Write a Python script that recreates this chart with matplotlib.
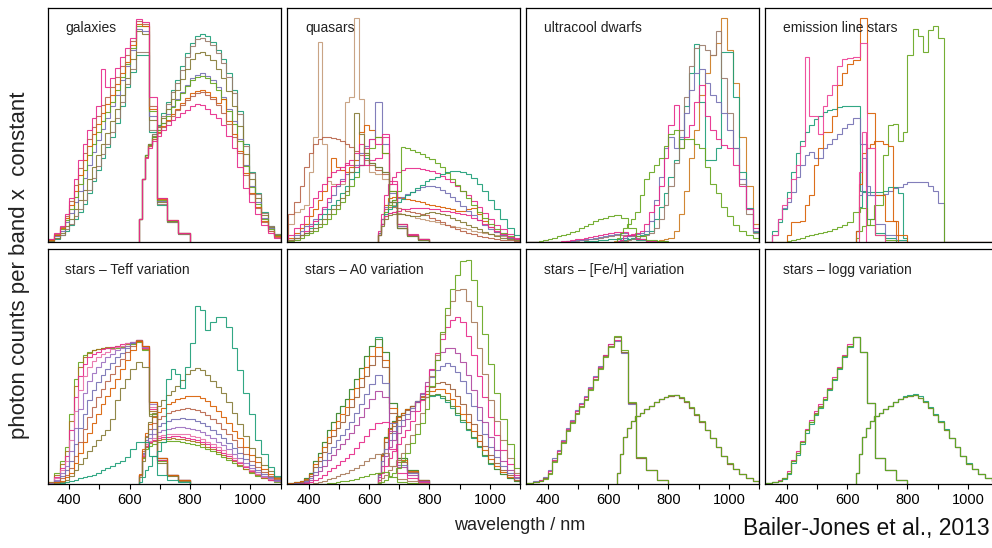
import matplotlib
matplotlib.use("Agg")
import matplotlib.pyplot as plt

plt.rcParams['font.family'] = ['Liberation Sans', 'DejaVu Sans']

# band edges (nm) of the two photometers
bp_edges = [330, 350, 370, 385, 400, 415, 430, 445, 460, 475, 490, 505, 520,
            535, 550, 567, 584, 601, 620, 642, 665, 692, 725, 762, 800]
rp_edges = [630, 640, 650, 662, 675, 690, 705, 720, 736, 752, 768, 784, 800,
            817, 834, 851, 868, 885, 902, 920, 938, 956, 975, 995, 1015, 1035,
            1058, 1080, 1100]

TEAL = '#1B9E77'
ORANGE = '#D95F02'
PURPLE = '#7570B3'
MAGENTA = '#E7298A'
GREEN = '#66A61E'
BROWN = '#A6761D'
OLIVE = '#857A35'
GREYBROWN = '#9A7B6B'
RUST = '#B8654A'
TAN = '#C49A78'
PLUM = '#B0479F'

# reference star (solar-like) used in several panels
star_bp = [0.5, 1, 1.5, 2.5, 5, 10, 13.5, 18, 23, 26.5, 30.5, 33.5,
           36.5, 40.5, 45, 49.5, 54.5, 59, 62.5, 56.5, 34.5, 11, 6, 2]
star_rp = [5, 13, 20, 24, 27, 29, 30.5, 32, 33.5, 35, 36.2, 37, 37.6, 37.8,
           36.8, 35, 32.5, 29.5, 26.5, 23, 19.5, 15.8, 12, 8.8, 6.3, 4.3, 2.6, 1.5]

# galaxies
gal_colors = [TEAL, GREYBROWN, OLIVE, PURPLE, GREEN, ORANGE, RUST, MAGENTA]
gal_bp = [
    [0.5, 1.5, 3, 5, 7.5, 10, 13, 16.5, 21, 26, 31, 36, 40.5, 45, 51, 58, 66, 72.5, 80, 80, 47, 16, 8.5, 3.5],
    [0.5, 1.7, 3.3, 5.5, 8, 11, 14, 18, 22.5, 27.5, 32.5, 37.5, 42, 47, 53, 60, 67.5, 74, 81, 81, 48, 16.5, 8.5, 3.5],
    [0.7, 2, 4, 7, 10, 14, 18, 22.5, 27, 32, 37, 42, 46.5, 51.5, 57, 63, 70, 78, 90, 89, 52, 17, 9, 3.8],
    [0.8, 2.5, 5, 8.5, 12.5, 17, 22, 27.5, 33, 38.5, 43.5, 48.5, 53, 58, 63, 69, 75, 82, 91, 90, 54, 17.5, 9, 3.8],
    [1, 3, 5.5, 9.5, 14, 19.5, 25, 31, 37, 42, 47, 51.5, 55.5, 60, 65, 70.5, 76, 83, 92, 92, 56, 18, 9, 3.8],
    [1, 3.2, 6, 10.5, 16, 22, 28.5, 35, 41, 46, 50.5, 55, 59, 63, 67.5, 72, 77, 84, 93, 92, 57, 18.5, 9.3, 4],
    [1.2, 3.5, 6.5, 11, 17.5, 24.5, 31.5, 38, 44, 49, 54, 58.5, 62, 66, 70.5, 75, 80, 86, 94.5, 93, 58, 19, 9.5, 4],
    [1.5, 4, 7, 12, 19, 27, 35, 42, 48, 53, 58, 74, 66, 70, 74.5, 79, 83, 87, 95, 94, 62, 19, 9.5, 4],
]
gal_rp = [
    [10, 27, 37, 42, 46, 50, 55, 60, 65, 69, 75, 80.5, 85, 88, 89, 88, 85.5, 82, 78, 72, 65, 56, 42, 30, 21, 13, 7, 3.5],
    [10, 27, 37, 42, 46, 49.5, 54, 59, 64, 68, 73.5, 79, 83.5, 86.5, 87, 86, 84, 80.5, 76.5, 70.5, 63.5, 54.5, 41, 29.5, 20.5, 12.5, 7, 3.5],
    [10, 27, 37, 42, 45.5, 49, 53, 57, 61, 65, 69.5, 74, 78, 80.5, 81, 80, 77.5, 74, 70, 64.5, 58, 49.5, 37.5, 27, 19, 11.5, 6.5, 3.3],
    [10, 27, 37, 41.5, 45, 48, 51, 54.5, 58, 61, 64, 67, 70, 71.5, 72, 71, 69, 66, 62, 57, 51.5, 44, 33, 24, 17, 10.5, 6, 3],
    [10, 27, 37, 41.5, 45, 48, 51, 54, 57.5, 60.5, 63.5, 66.5, 69, 70.5, 71, 70, 68, 65, 61, 56, 50.5, 43, 32.5, 23.5, 16.5, 10, 5.8, 3],
    [10, 27, 36.5, 41, 44, 47, 49.5, 52, 54.5, 57, 59.5, 61.5, 63.5, 64.5, 65, 64, 62, 59.5, 61, 51.5, 46, 39, 29.5, 21, 15, 9, 5, 2.5],
    [10, 27, 36.5, 41, 44, 46.5, 49, 51.5, 54, 56.5, 58.5, 60.5, 62.5, 63.5, 64, 63, 61, 58.5, 55, 50.5, 45, 38, 28.5, 20.5, 14.5, 8.8, 4.8, 2.4],
    [10, 27, 36, 40, 43, 45.5, 48, 50, 52, 53.5, 55, 56.5, 58, 58.8, 58.5, 57, 54.5, 53, 50, 45.5, 40, 32, 23, 17, 12, 7.5, 4, 2],
]

# quasars
qso_colors = [TAN, RUST, ORANGE, PURPLE, MAGENTA, GREEN, TEAL, MAGENTA, OLIVE]
qso_bp = [
    [8, 13, 14, 16, 30, 45, 85.5, 42, 26, 25, 24, 25, 60, 62, 95.5, 61, 38, 30, 29, 27, 16, 6, 3, 1.2],
    [12, 17, 24, 32, 38, 42, 44, 45, 45, 44.5, 44, 43, 42, 40.5, 39, 37, 35, 33, 31, 29, 17, 6, 3, 1.2],
    [2, 4, 6, 8, 11, 14, 18, 22, 28, 36, 32, 31, 30, 32, 35, 47, 50, 48, 45, 38, 22, 7, 3, 1.3],
    [1, 3, 5, 7, 8, 10, 12, 14, 17, 20, 24, 27, 29, 30, 33, 38, 41, 44, 60, 42, 21, 7, 3, 1.2],
    [3, 6, 8, 11, 15, 19, 22, 25, 28, 30, 31, 32, 33, 35, 38, 42, 33, 35, 36, 46, 26, 8, 3.5, 1.5],
    [0.5, 1, 2, 3, 4, 5, 6.5, 8, 10, 12, 14, 17, 20, 24, 28, 33, 37, 40, 45, 38, 22, 8, 3, 1],
    [1, 2, 3, 4, 6, 8, 10, 12, 14, 16, 18, 21, 24, 27, 30, 33, 36, 34, 32, 30, 17, 6, 2.5, 1],
    [1, 2, 3, 5, 7, 9, 12, 15, 19, 24, 25, 26, 34, 33, 32, 33, 40, 44, 42, 45, 25, 8, 3, 1.2],
    [1, 2, 3, 4, 5, 6, 8, 10, 12, 14, 16, 19, 22, 30, 55, 46, 38, 34, 32, 30, 17, 6, 2.5, 1],
]
qso_rp = [
    [3, 8, 11, 12.5, 13, 12.5, 12, 11.5, 11, 10.5, 10, 9.5, 9, 8.5, 8, 7.5, 7, 6.5, 6, 5.5, 5, 4.5, 4, 3.5, 3, 2.5, 2, 1.5],
    [4, 10, 14, 15, 15, 14.5, 14, 13.5, 13, 12.5, 12, 11.5, 10.5, 9.5, 8.5, 7.5, 6.5, 5.5, 4.7, 4, 3.4, 2.8, 2.3, 1.8, 1.4, 1.1, 0.8, 0.6],
    [4, 10, 16, 19, 19.5, 19.5, 19, 18.5, 18, 17.5, 17, 16.5, 16, 15.5, 15, 14.5, 14, 13.5, 13.5, 14, 14.5, 12, 9, 6.5, 4.5, 3, 2, 1.2],
    [4, 10, 15, 17, 18, 19, 19.5, 20.5, 21.5, 22.5, 23.5, 24, 24, 23.5, 22.5, 21, 19.5, 17.5, 15.5, 13.5, 11.5, 9.5, 7.5, 5.8, 4.3, 3, 2, 1.2],
    [5, 12, 20, 25, 28, 30, 31, 31.5, 31.8, 31.6, 31.3, 31, 30.5, 29.5, 28.3, 27, 25.5, 24, 22, 20, 17.5, 15, 12.5, 10, 7.5, 5.5, 3.5, 2],
    [3, 8, 13, 16, 18, 22, 40.5, 40, 39.5, 38.5, 37.5, 36.5, 35.5, 34, 32, 29.5, 27, 24.5, 22, 19, 16, 13, 10.5, 8, 5.8, 4, 2.5, 1.5],
    [3, 8, 12, 14, 15.5, 17, 18.5, 20, 21.5, 23, 24.5, 26, 27, 28, 29, 29.8, 30.2, 30.3, 30, 29, 27.5, 25, 22, 18, 14, 10, 6, 3],
    [3, 8, 11, 12.5, 13, 13.5, 14, 14, 14.5, 14.5, 14.5, 14.5, 14, 14, 13.5, 13.5, 13, 12.5, 12, 11.5, 10.5, 9.5, 8, 6.5, 5, 3.5, 2.2, 1.3],
    [3, 7, 10, 11.5, 12, 12, 12, 11.5, 11, 11, 11.5, 12.5, 13, 12.5, 12, 11.5, 10.5, 9.5, 8.5, 7.5, 6.5, 5.5, 4.5, 3.5, 2.7, 2, 1.4, 0.9],
]

# ultracool dwarfs
ucd_colors = ['#CC7A1F', TEAL, GREYBROWN, PURPLE, MAGENTA, GREEN]
ucd_bp = [
    [0, 0, 0, 0, 0, 0, 0, 0, 0, 0, 0, 0, 0, 0, 0.1, 0.1, 0.2, 0.3, 0.4, 0.5, 0.3, 0.1, 0.1, 0],
    [0, 0, 0, 0, 0, 0, 0, 0, 0, 0.1, 0.2, 0.3, 0.4, 0.5, 0.6, 0.8, 1, 1.3, 1.6, 2, 1.5, 0.8, 0.5, 0.2],
    [0, 0, 0, 0, 0, 0.1, 0.2, 0.3, 0.4, 0.5, 0.7, 0.9, 1.1, 1.3, 1.6, 1.9, 2.2, 2.6, 3, 3.2, 2.5, 1.2, 0.6, 0.2],
    [0, 0, 0, 0, 0, 0.1, 0.2, 0.3, 0.4, 0.6, 0.8, 1, 1.2, 1.5, 1.8, 2.1, 2.5, 3, 3.5, 4, 3, 1.5, 0.7, 0.3],
    [0, 0, 0, 0, 0, 0.2, 0.3, 0.5, 0.7, 1, 1.3, 1.6, 2, 2.3, 2.6, 3, 3.5, 4, 4.5, 4.5, 3, 1.5, 0.7, 0.3],
    [0, 0, 0.5, 1, 1.5, 2, 2.5, 3, 3.5, 4.2, 5, 6, 7, 8, 9, 10, 10.5, 11, 11.8, 10.5, 6, 2.5, 1, 0.4],
]
ucd_rp = [
    [0, 0, 0, 0, 0, 0, 0.1, 0.2, 0.3, 0.5, 0.8, 1.2, 2, 5, 12, 22, 36, 48, 63, 72, 80, 85, 95.5, 82, 68, 45, 24, 8],
    [0.3, 0.6, 1, 1.5, 2, 2.5, 3, 3.5, 5, 10, 15, 21, 28, 35, 44, 58, 72, 84.5, 60, 35, 35, 40, 81, 81, 62, 30, 14.5, 4.5],
    [0.2, 0.4, 0.6, 1, 1.5, 2, 2.5, 3, 4, 6, 10, 16, 24, 34, 48, 62, 75, 83, 84, 82, 80, 90, 70, 55, 40, 25, 12, 4],
    [0.5, 1, 2, 2.5, 3, 3.5, 4, 5, 9, 18, 28, 40, 45, 40, 45, 55, 65, 72, 74, 68, 63, 60, 55, 48, 40, 27, 14, 5],
    [0.5, 1, 2.5, 3, 3.5, 4, 5, 8, 13, 16, 24, 36, 50, 58.5, 40, 45, 50, 60, 67, 54, 48, 44, 41.5, 40, 33, 24, 14, 6],
    [2, 4, 6, 8, 10, 13, 20, 27, 30, 33, 36, 41, 46, 48, 40, 44, 44, 42, 40, 32, 25, 21, 15, 11, 7.5, 5, 3, 2],
]

# emission line stars
els_colors = [TEAL, PURPLE, GREEN, ORANGE, '#EE3F95']
els_bp = [
    [0, 5, 8.8, 14, 21.6, 30, 38, 43, 47, 50, 52.5, 54, 55.5, 56.5, 57, 57.8, 58.2, 58.2, 58, 22, 10, 4, 2, 1],
    [0, 3, 10, 14.5, 17, 21.6, 28, 33, 37, 38.6, 35.8, 35.8, 40, 42, 44, 46, 48.6, 50.5, 52.8, 42, 20, 8, 3, 0],
    [0, 0, 0, 0, 0.5, 1, 1.5, 2, 2.5, 3, 3.5, 4, 4.5, 5, 5.5, 6.5, 7.5, 8.8, 13, 14.5, 7.4, 3, 1, 0],
    [0, 0, 0, 0, 3, 8.8, 8.8, 9, 16, 20, 33, 40, 47, 47, 54, 67, 72, 76, 77.7, 95.5, 55, 20, 9, 3],
    [0, 3, 10, 16, 19, 27, 33, 41, 79, 54, 54, 46, 58, 63, 67, 75, 78, 78.4, 79, 85, 40, 3, 0, 0],
]
els_rp = [
    [5, 15, 21.6, 21.6, 21.6, 21.6, 21.6, 22, 23.7, 23.7, 21, 2, 0, 0, 0, 0, 0, 0, 0, 0, 0, 0, 0, 0, 0, 0, 0, 0],
    [5, 20, 35.8, 24, 20, 20, 20, 20.5, 22, 23, 23.5, 25, 25.8, 25.8, 25.8, 25.5, 24, 22, 16.6, 0, 0, 0, 0, 0, 0, 0, 0, 0],
    [2, 5, 7, 7.4, 10, 16, 16, 37, 50, 50.6, 43, 47, 80, 91, 88, 81, 90.5, 92, 87, 0, 0, 0, 0, 0, 0, 0, 0, 0],
    [5, 25, 38, 40, 42, 43, 43, 42, 41, 9, 0, 0, 0, 0, 0, 0, 0, 0, 0, 0, 0, 0, 0, 0, 0, 0, 0, 0],
    [0, 30, 47, 0, 0, 0, 0, 0, 0, 0, 0, 0, 0, 0, 0, 0, 0, 0, 0, 0, 0, 0, 0, 0, 0, 0, 0, 0],
]

# stars - Teff variation (hot to cool)
teff_colors = [GREEN, BROWN, MAGENTA, '#E86FA8', '#9C6FC0', PURPLE, RUST, ORANGE, OLIVE, TEAL]
teff_bp = [
    [1, 5, 10, 16, 30, 45, 52, 55, 56.5, 57, 57.5, 58, 58, 58, 58, 58.5, 59, 59.5, 60.5, 57, 30, 10, 4, 2],
    [0.8, 4, 8.5, 14, 27, 42, 50, 54, 56, 57, 57.5, 58, 58.5, 58.5, 59, 59, 59.5, 60, 61, 57.5, 31, 10.5, 4, 2],
    [0.6, 3, 7, 12, 23, 37, 46, 51, 54, 55.5, 56.5, 57.5, 58, 58.5, 59, 59.5, 60, 60.5, 61.5, 58, 32, 10.5, 4, 2],
    [0.5, 2.5, 6, 10, 19, 31, 40, 46, 50, 52.5, 54, 55.5, 56.5, 57.5, 58.5, 59, 60, 60.5, 61.5, 58.5, 33, 11, 4, 2],
    [0.4, 2, 5, 8, 14, 24, 32, 39, 44, 47.5, 50, 52, 54, 55.5, 57, 58, 59, 60.5, 61.5, 58.5, 34, 11, 4, 2],
    [0.3, 1.5, 3.5, 6, 10, 17, 24, 30, 36, 40, 43.5, 46.5, 49, 51.5, 54, 56, 58, 60, 61.5, 59, 35, 11, 4, 2],
    [0.2, 1, 2.5, 4, 7, 12, 18, 23.5, 28.5, 33, 37, 40.5, 44, 47, 50.5, 53.5, 56.5, 59, 61.5, 59, 35, 11, 4, 2],
    [0.2, 0.8, 1.5, 3, 5, 9, 13.5, 18, 22, 26, 30, 34, 37.5, 41, 45, 49, 53, 57, 61, 59, 35, 11, 4, 2],
    [0.1, 0.5, 1, 2, 3.5, 6, 8.5, 11, 14, 16.5, 19, 21, 23, 28, 36, 41, 45, 49, 52, 50, 29, 9, 3.5, 1.5],
    [0, 0.2, 0.5, 1, 1.5, 2, 2.5, 3, 3.5, 4, 5, 6, 7, 8, 9, 10, 11.5, 15, 18, 18, 12, 4, 2, 1],
]
teff_rp = [
    [4, 11, 15, 16.5, 17.3, 17.8, 18.2, 18.4, 18.4, 18.3, 18, 17.7, 17.2, 16.6, 15.9, 15, 14, 13, 11.8, 10.5, 9.2, 7.8, 6.3, 4.9, 3.7, 2.7, 1.8, 1.1],
    [4, 11.5, 16, 17.5, 18.3, 18.8, 19.2, 19.4, 19.5, 19.4, 19.2, 18.9, 18.4, 17.8, 17, 16, 15, 13.8, 12.6, 11.2, 9.8, 8.3, 6.7, 5.2, 3.9, 2.8, 1.9, 1.2],
    [4, 12, 16.5, 18, 19, 19.6, 20, 20.3, 20.4, 20.4, 20.2, 19.9, 19.4, 18.8, 18, 17, 15.9, 14.7, 13.4, 12, 10.5, 8.9, 7.2, 5.6, 4.2, 3, 2, 1.3],
    [4, 12.5, 17, 18.5, 19.7, 20.4, 20.9, 21.3, 21.5, 21.6, 21.5, 21.2, 20.7, 20.1, 19.3, 18.2, 17, 15.8, 14.4, 12.9, 11.3, 9.6, 7.8, 6.1, 4.5, 3.2, 2.2, 1.4],
    [4, 13, 18, 19.8, 21.2, 22.2, 23, 23.6, 24, 24.2, 24.2, 24, 23.6, 23, 22.1, 21, 19.7, 18.2, 16.6, 14.9, 13.1, 11.1, 9, 7, 5.2, 3.7, 2.5, 1.6],
    [4, 13.5, 19, 21.5, 23.5, 25, 26.2, 27, 27.6, 28, 28.1, 28, 27.6, 27, 26, 24.8, 23.3, 21.6, 19.7, 17.7, 15.5, 13.2, 10.7, 8.3, 6.2, 4.4, 3, 1.9],
    [4, 14, 20.5, 23.5, 26, 27.8, 29.2, 30.3, 31.2, 31.8, 32.2, 32.3, 32.1, 31.6, 30.7, 29.4, 27.8, 25.9, 23.7, 21.3, 18.7, 15.9, 13, 10.1, 7.5, 5.3, 3.6, 2.3],
    [4.5, 15, 22, 25.5, 28.5, 30.8, 32.6, 34, 35.2, 36.2, 36.9, 37.4, 37.6, 37.4, 36.6, 35.3, 33.5, 31.3, 28.8, 26, 22.8, 19.5, 16, 12.5, 9.3, 6.6, 4.4, 2.8],
    [3, 10, 20, 26.5, 30.5, 33.5, 36, 38, 39.5, 42, 44.5, 47, 48.8, 49.4, 48.5, 46.5, 44, 41.5, 38.7, 35, 30.5, 25.5, 20.5, 15.5, 11.8, 8.3, 5.5, 3.3],
    [1, 3, 6, 8, 12, 14, 18, 45, 49, 47, 41, 50, 60, 76, 74, 65.7, 69, 71, 71, 67, 58, 48.5, 39, 30, 19, 13, 7.5, 3.5],
]

# stars - A0 variation (low to high extinction)
a0_colors = [TEAL, '#4D8B2E', ORANGE, '#A0603A', PURPLE, PLUM, MAGENTA, '#A87A5A', GREEN]
a0_bp = [
    star_bp,
    [0.5, 1, 1.5, 2.5, 5, 10, 13.5, 18, 23, 26.5, 30.5, 33.5, 36.5, 40.5, 45, 49.5, 54.5, 59, 62, 56.5, 34.5, 11, 6, 2],
    [0.4, 0.8, 1.3, 2.1, 4.3, 8.6, 11.6, 15.7, 20, 23.3, 27, 29.8, 32.7, 36.5, 40.8, 45.2, 50.1, 54.6, 58.4, 53.1, 32.4, 10.3, 5.6, 1.9],
    [0.3, 0.7, 1.1, 1.8, 3.6, 7.4, 10.1, 13.6, 17.6, 20.5, 23.9, 26.6, 29.4, 33, 37.1, 41.4, 46.2, 50.7, 54.5, 50, 30.5, 9.7, 5.3, 1.8],
    [0.2, 0.5, 0.75, 1.3, 2.6, 5.4, 7.5, 10.3, 13.5, 15.9, 18.7, 21, 23.4, 26.6, 30.2, 34.1, 38.4, 42.6, 46.4, 42.9, 26.2, 8.4, 4.6, 1.5],
    [0.15, 0.3, 0.5, 0.9, 1.9, 4.1, 5.7, 7.9, 10.5, 12.5, 14.9, 17, 19.1, 21.9, 25.1, 28.6, 32.5, 36.3, 39.9, 37.3, 22.8, 7.3, 4, 1.3],
    [0.06, 0.13, 0.2, 0.4, 0.9, 1.9, 2.8, 4.1, 5.6, 6.9, 8.4, 9.8, 11.2, 13.1, 15.3, 17.8, 20.6, 23.4, 26.2, 26.5, 15.2, 4.8, 2.6, 0.9],
    [0.01, 0.03, 0.06, 0.1, 0.3, 0.65, 1, 1.5, 2.2, 2.8, 3.5, 4.3, 5, 6, 7.1, 8.4, 9.9, 11.4, 12.9, 13.2, 7.6, 2.4, 1.3, 0.4],
    [0, 0, 0, 0, 0.05, 0.1, 0.2, 0.3, 0.5, 0.7, 0.9, 1.2, 1.5, 1.9, 2.4, 2.9, 3.5, 4.2, 4.9, 5.2, 3, 1, 0.5, 0.2],
]
a0_rp = [
    star_rp,
    [5, 13, 20, 24, 27, 29, 30.5, 32, 33.5, 35, 36.3, 37.2, 37.9, 38.3, 37.6, 35.8, 33.3, 30.3, 27.2, 23.7, 20.1, 16.3, 12.4, 9.1, 6.5, 4.5, 2.7, 1.6],
    [5, 12.5, 19.5, 23.5, 26.5, 28.5, 30.5, 32, 33.5, 35.5, 37, 38.5, 39.8, 40.5, 40.5, 39, 36.5, 33.5, 30, 26.5, 22.5, 18.5, 14.5, 10.8, 7.8, 5.3, 3.3, 1.8],
    [4.5, 12, 18, 22, 25, 27.5, 29.5, 31.5, 33.5, 35.5, 37.5, 39.5, 41.5, 43, 43.5, 42.5, 40.5, 37.5, 34, 30, 25.5, 21, 16.5, 12.5, 9, 6, 3.8, 2],
    [4, 10, 15, 19, 22, 25, 27.5, 30, 32.5, 35.5, 38.5, 42, 45.5, 48.5, 50.5, 51.5, 50.5, 48, 44, 39, 33.5, 27.5, 21.5, 16, 11.5, 8, 5, 2.5],
    [3, 8, 12, 16, 19, 22, 25, 28, 31, 35, 39, 43.5, 48.5, 53, 56.5, 58, 58, 56, 52, 46.5, 40, 33, 26.5, 20, 14.5, 10, 6, 3],
    [2, 5, 8, 11, 14, 17, 20, 23, 27, 31, 36, 42, 49, 56, 62, 67, 70, 71, 69, 63, 55, 46, 37, 28.5, 21, 14.5, 8.5, 4],
    [1, 2.5, 4, 6, 8, 10.5, 13.5, 17, 21, 25.5, 30.5, 37, 46, 55, 64, 72, 78, 82.5, 83, 78, 69, 58, 47, 36, 27, 19, 11, 5],
    [0.5, 1, 2, 3.5, 5, 7, 10, 13.5, 17.5, 21.5, 26, 32, 42, 53, 65, 75, 83, 89, 95, 95.5, 87, 76, 64, 51, 39, 28, 17, 7],
]

# stars - [Fe/H] variation
feh_colors = [PURPLE, MAGENTA, OLIVE, GREEN]
feh_bp = [
    [0.6, 1.2, 1.8, 3, 6, 11, 14.5, 19, 24, 27.5, 31.5, 34.5, 37.5, 41.5, 46, 50.5, 55, 59.5, 61, 56, 34, 11, 6, 2],
    [0.5, 1.1, 1.7, 2.8, 5.5, 10.5, 14, 18.5, 23.5, 27, 31, 34, 37, 41, 45.5, 50, 55, 59.5, 61.5, 56.5, 34.5, 11, 6, 2],
    star_bp,
    [0.5, 1, 1.5, 2.3, 4.5, 9.5, 13, 17.5, 22.5, 26, 30, 33, 36, 40, 44.5, 49, 54, 58.5, 63, 57, 35, 11.5, 6, 2],
]
feh_rp = [
    star_rp,
    star_rp,
    star_rp,
    [5, 13, 20, 24, 27, 29, 30.5, 32, 33.5, 35, 36.3, 37.3, 38, 38.2, 37.2, 35.3, 32.8, 29.8, 26.8, 23.3, 19.7, 16, 12.2, 9, 6.4, 4.4, 2.7, 1.5],
]

# stars - logg variation
logg_colors = [OLIVE, MAGENTA, TEAL, GREEN]
logg_bp = [
    star_bp,
    [0.5, 1.1, 1.7, 2.8, 5.5, 10.5, 14, 18.5, 23.5, 27.5, 31, 34, 37, 41, 45.5, 50, 55, 59.5, 62.5, 56.5, 34.5, 11, 6, 2],
    [0.4, 0.9, 1.3, 2.2, 4.5, 9, 12.5, 17, 22, 25.5, 29.5, 32.5, 36, 40, 44.5, 49, 54, 58.5, 62.5, 56.5, 34.5, 11, 6, 2],
    [0.5, 1, 1.5, 2.5, 5, 10, 13.5, 18, 23, 26.5, 30, 33, 36.5, 40.5, 45, 49.5, 54.5, 59, 62.5, 56.5, 34.5, 11, 6, 2],
]
logg_rp = [
    star_rp,
    star_rp,
    [5, 13, 20, 24, 27, 29, 30.5, 32, 33.5, 35, 36.4, 37.4, 38.2, 38.5, 37.5, 35.6, 33, 30, 27, 23.4, 19.8, 16, 12.2, 9, 6.4, 4.4, 2.7, 1.5],
    star_rp,
]

panels = [
    ('galaxies', gal_colors, gal_bp, gal_rp),
    ('quasars', qso_colors, qso_bp, qso_rp),
    ('ultracool dwarfs', ucd_colors, ucd_bp, ucd_rp),
    ('emission line stars', els_colors, els_bp, els_rp),
    ('stars \u2013 Teff variation', teff_colors, teff_bp, teff_rp),
    ('stars \u2013 A0 variation', a0_colors, a0_bp, a0_rp),
    ('stars \u2013 [Fe/H] variation', feh_colors, feh_bp, feh_rp),
    ('stars \u2013 logg variation', logg_colors, logg_bp, logg_rp),
]

W, H = 992, 548
fig = plt.figure(figsize=(W / 100, H / 100), dpi=100)
lefts = [47.5, 287, 526, 765]
rows = [(7.7, 242.3), (249.3, 484.3)]

for i, (title, colors, bps, rps) in enumerate(panels):
    r, c = divmod(i, 4)
    top, bot = rows[r]
    ax = fig.add_axes([lefts[c] / W, 1 - bot / H, 233 / W, (bot - top) / H])
    for col, bp, rp in zip(colors, bps, rps):
        ax.stairs(bp, bp_edges, baseline=0, color=col, lw=0.8, alpha=0.9)
        ax.stairs(rp, rp_edges, baseline=0, color=col, lw=0.8, alpha=0.9)
    ax.set_xlim(328, 1100)
    ax.set_ylim(0, 100)
    ax.set_yticks([])
    for s in ax.spines.values():
        s.set_linewidth(0.9)
    ax.text(0.077, 0.895, title, transform=ax.transAxes, fontsize=10,
            va='baseline', ha='left', color='#222222')
    if r == 1:
        ax.set_xticks(range(400, 1101, 100))
        ax.set_xticklabels(['400', '', '600', '', '800', '', '1000', ''])
        ax.tick_params(axis='x', direction='out', length=3.6, width=0.8,
                       labelsize=10.5, pad=2.5)
    else:
        ax.set_xticks([])

fig.text(20 / W, 1 - 265 / H, 'photon counts per band x  constant',
         rotation=90, fontsize=16, ha='center', va='center', color='#222222')
fig.text(520 / W, 1 - 525 / H, 'wavelength / nm', fontsize=13,
         ha='center', va='center', color='#222222')
fig.text(990 / W, 1 - 528 / H, 'Bailer-Jones et al., 2013', fontsize=16.5,
         ha='right', va='center', color='#111111')

fig.savefig('out.png', dpi=100)
